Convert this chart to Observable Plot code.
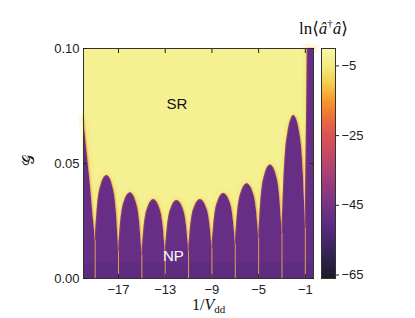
<!DOCTYPE html>
<html><head><meta charset="utf-8">
<script src="https://cdn.jsdelivr.net/npm/d3@7"></script>
<script src="https://cdn.jsdelivr.net/npm/@observablehq/plot@0.6"></script>
<style>
body{margin:0;background:#fff;}
#wrap{position:relative;width:415px;height:318px;overflow:hidden;font-family:"Liberation Sans",Arial,sans-serif;}
#wrap svg{position:absolute;top:0;}
.lab{position:absolute;white-space:nowrap;color:#111;font-family:"Liberation Serif","DejaVu Serif",serif;line-height:1;}
</style></head><body><div id="wrap"></div>
<script>
// ---- data ----
const xDomain = [-20, -0.3];
const yDomain = [0, 0.1];
const xTicks = [-17, -13, -9, -5, -1];
const yTicks = [0, 0.05, 0.10];
const cTicks = [-5, -25, -45, -65];
const cDomain = [-66, 0];
// vertical resonance lines and the G where the SR cusp meets them
const lineX = [-19, -17, -15, -13, -11, -9, -7, -5, -3, -1];
const cuspG = [0.0165, 0.012, 0.010, 0.011, 0.012, 0.013, 0.015, 0.0175, 0.0195, 0.022];
// NP lobes: centres and peak heights
const lobeX = [-18, -16, -14, -12, -10, -8, -6, -4, -2];
const lobePeakG = [0.0448, 0.0373, 0.0343, 0.0339, 0.0343, 0.037, 0.0412, 0.0494, 0.0709];
// arch profile of one lobe (offset in units of half width, relative height)
const archDx  = [-1, -0.97, -0.93, -0.83, -0.67, -0.5, -0.36, -0.2, 0, 0.2, 0.36, 0.5, 0.67, 0.83, 0.93, 0.97, 1];
const archRel = [0, 0.12, 0.225, 0.475, 0.725, 0.85, 0.925, 0.975, 1, 0.975, 0.925, 0.85, 0.725, 0.475, 0.225, 0.12, 0];
// edges of the diagram
const leftEdgeX = [-20, -19.8, -19.6, -19.4, -19.2, -19.05];
const leftEdgeG = [0.070, 0.060, 0.050, 0.040, 0.028, 0.020];
const rightEdgeX = [-0.97, -0.92, -0.87, -0.83, -0.3];
const rightEdgeG = [0.040, 0.060, 0.080, 0.100, 0.100];
// darker band at the bottom of the NP phase
const bottomBandG = 0.0065;
// colour levels (ln<a†a>)
const colorDomain = [-66, -65, -60, -55, -50, -45, -40, -35, -30, -25, -20, -15, -10, -5, 0];
const colorRange = ["#1c1a28", "#1e1b2e", "#302250", "#45276e", "#5e2c84", "#773384", "#92397e", "#ad4274", "#c64a64", "#db5252", "#ec6e38", "#f59a2a", "#f5cc50", "#f3ec80", "#f8f6aa"];
const srLevel = -3, npLevel = -48.5, edgeLevel = -14, glowLevel = -6, bandLevel = -57;

// ---- build boundary table ----
const boundary = [];
leftEdgeX.forEach((x, i) => boundary.push({x, g: leftEdgeG[i]}));
lobeX.forEach((c, i) => {
  const gl = cuspG[i], gr = cuspG[i + 1], h = lobePeakG[i];
  archDx.forEach((dx, j) => {
    const base = dx < 0 ? gl : gr;
    boundary.push({x: c + dx, g: base + (h - base) * archRel[j]});
  });
});
rightEdgeX.forEach((x, i) => boundary.push({x, g: rightEdgeG[i]}));
const rules = lineX.map((x, i) => ({x, g: cuspG[i]}));
const minus = d => (d < 0 ? "\u2212" + Math.abs(d) : String(d));
const color = {type: "linear", domain: colorDomain, range: colorRange};

const main = Plot.plot({
  width: 415, height: 318,
  marginLeft: 83, marginRight: 102, marginTop: 48, marginBottom: 40,
  x: {domain: xDomain},
  y: {domain: yDomain},
  color,
  style: {fontFamily: "Liberation Sans, Arial, sans-serif", fontSize: "13px", color: "#222", background: "transparent"},
  marks: [
    Plot.rect([srLevel], {x1: xDomain[0], x2: xDomain[1], y1: yDomain[0], y2: yDomain[1], fill: d => d}),
    Plot.line(boundary, {x: "x", y: "g", stroke: () => glowLevel, strokeWidth: 10, strokeOpacity: 0.25, curve: "monotone-x"}),
    Plot.line(boundary, {x: "x", y: "g", stroke: () => edgeLevel, strokeWidth: 3, strokeOpacity: 0.3, curve: "monotone-x"}),
    Plot.areaY(boundary, {x: "x", y1: 0, y2: "g", fill: () => npLevel, curve: "monotone-x"}),
    Plot.rect([bandLevel], {x1: xDomain[0], x2: xDomain[1], y1: yDomain[0], y2: bottomBandG, fill: d => d, fillOpacity: 0.18}),
    Plot.line(boundary, {x: "x", y: "g", stroke: () => -22, strokeWidth: 0.8, strokeOpacity: 0.4, curve: "monotone-x"}),
    Plot.ruleX(rules, {x: "x", y1: 0, y2: "g", stroke: "#dca052", strokeWidth: 1}),
    Plot.text([{x: -12, g: 0.0757, t: "SR"}], {x: "x", y: "g", text: "t", fill: "#111", fontSize: 15}),
    Plot.text([{x: -12.3, g: 0.0096, t: "NP"}], {x: "x", y: "g", text: "t", fill: "#fff", fontSize: 15}),
    Plot.frame({stroke: "#333", strokeWidth: 1}),
    Plot.axisX(xTicks, {anchor: "bottom", tickSize: -4, tickFormat: () => "", label: null}),
    Plot.axisX(xTicks, {anchor: "top", tickSize: -4, tickFormat: () => "", label: null}),
    Plot.axisX(xTicks, {anchor: "bottom", tickSize: 0, tickPadding: 6, tickFormat: minus, label: null, fontSize: 13}),
    Plot.axisY(yTicks, {anchor: "left", tickSize: -4, tickFormat: () => "", label: null}),
    Plot.axisY(yTicks, {anchor: "right", tickSize: -4, tickFormat: () => "", label: null}),
    Plot.axisY(yTicks, {anchor: "left", tickSize: 0, tickPadding: 4, tickFormat: d3.format(".2f"), label: null, fontSize: 13})
  ]
});

const barSteps = d3.range(cDomain[0], cDomain[1], 0.5);
const bar = Plot.plot({
  width: 94, height: 318,
  marginLeft: 0, marginRight: 80, marginTop: 48, marginBottom: 40,
  x: {domain: [0, 1], axis: null},
  y: {domain: cDomain},
  color,
  style: {fontFamily: "Liberation Sans, Arial, sans-serif", fontSize: "13px", color: "#222", background: "transparent"},
  marks: [
    Plot.rect(barSteps, {x1: 0, x2: 1, y1: d => d, y2: d => Math.min(d + 0.7, cDomain[1]), fill: d => d + 0.25}),
    Plot.frame({stroke: "#333", strokeWidth: 1}),
    Plot.axisY(cTicks, {anchor: "right", tickSize: 3, tickPadding: 3, tickFormat: minus, label: null, fontSize: 13})
  ]
});

const wrap = document.getElementById("wrap");
main.style.left = "0px";
bar.style.left = "321px";
wrap.appendChild(main);
wrap.appendChild(bar);

function addLabel(html, css) {
  const el = document.createElement("div");
  el.className = "lab";
  el.innerHTML = html;
  Object.assign(el.style, css);
  wrap.appendChild(el);
  return el;
}
addLabel("1/<i>V</i><sub style='font-size:11px;vertical-align:-3px'>dd</sub>", {left: "192px", top: "297px", fontSize: "16px"});
addLabel("ln\u27E8<i>\u00E2</i><sup style='font-size:11px'>\u2020</sup><i>\u00E2</i>\u27E9", {left: "299px", top: "18px", fontSize: "17px"});
addLabel("\uD835\uDCA2", {left: "23px", top: "152px", fontSize: "16px", transform: "rotate(-90deg)", fontFamily: "DejaVu Serif, DejaVu Sans, serif"});
</script></body></html>
